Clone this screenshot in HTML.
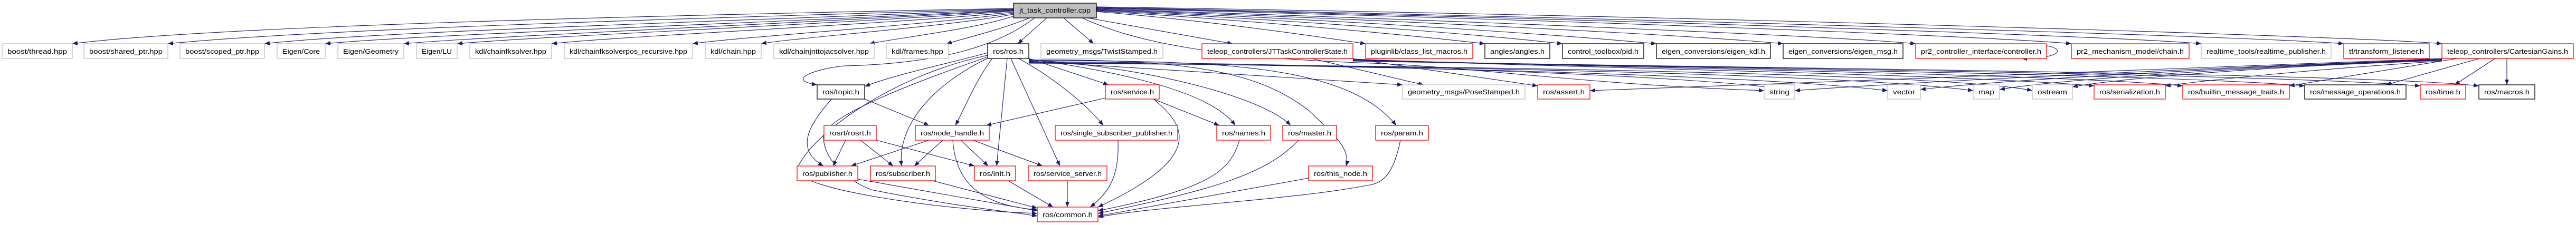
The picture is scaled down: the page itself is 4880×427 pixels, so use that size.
<!DOCTYPE html>
<html><head><meta charset="utf-8"><style>
html,body{margin:0;padding:0;background:#fff;}
svg{display:block;}
text{font-family:"Liberation Sans",sans-serif;font-size:13px;fill:#000;}
.e{fill:none;stroke:#191970;stroke-width:1.1;}
</style></head><body>
<svg width="4880" height="427" viewBox="0 0 4880 427" xmlns="http://www.w3.org/2000/svg">
<defs><marker id="a" viewBox="0 0 10 8" refX="10" refY="4" markerWidth="10" markerHeight="8" markerUnits="userSpaceOnUse" orient="auto"><path d="M0,0 L10,4 L0,8 z" fill="#191970"/></marker></defs>
<g marker-end="url(#a)">
<!-- root to left row1 -->
<path class="e" d="M1920,16 C1200,30 400,50 137,83"/>
<path class="e" d="M1920,17 C1300,35 600,55 318,83"/>
<path class="e" d="M1920,18 C1400,40 700,60 501,83"/>
<path class="e" d="M1920,19 C1500,42 800,65 616,83"/>
<path class="e" d="M1920,20 C1500,45 900,70 765,83"/>
<path class="e" d="M1920,21 C1600,45 1000,70 866,83"/>
<path class="e" d="M1920,23 C1700,45 1150,70 1045,83"/>
<path class="e" d="M1920,25 C1750,48 1400,70 1312,83"/>
<path class="e" d="M1920,27 C1800,50 1500,72 1442,83"/>
<path class="e" d="M1922,30 C1850,55 1700,72 1647,83"/>
<path class="e" d="M1950,34 C1900,55 1830,72 1793,83"/>
<path class="e" d="M1983,34 L1928,83"/>
<path class="e" d="M2015,34 L2072,83"/>
<path class="e" d="M2060,34 L2335,83"/>
<!-- root to right row1 -->
<path class="e" d="M2077,22 C2300,40 2500,70 2587,83"/>
<path class="e" d="M2077,21 C2400,40 2700,70 2813,83"/>
<path class="e" d="M2077,20 C2500,40 2850,70 2960,83"/>
<path class="e" d="M2077,19 C2600,40 3000,70 3138,83"/>
<path class="e" d="M2077,18 C2700,40 3250,70 3378,83"/>
<path class="e" d="M2077,17 C2800,40 3500,70 3629,83"/>
<path class="e" d="M2077,16 C2900,35 3800,70 3924,83"/>
<path class="e" d="M2077,15 C3000,35 4050,70 4170,83"/>
<path class="e" d="M2077,14 C3100,35 4300,70 4440,83"/>
<path class="e" d="M2077,13 C3200,30 4500,70 4626,83"/>
<!-- root to deeper -->
<path class="e" d="M1960,34 C1900,80 1800,120 1600,125 C1560,128 1480,150 1548,161"/>
<path class="e" d="M2050,34 C2150,80 2300,110 2600,120 C2800,128 3000,160 3342,172"/>
<!-- self loop controller -->
<path class="e" d="M3830,83 C3920,83 3920,111 3830,111"/>
<!-- ros.h edges -->
<path class="e" d="M1871,100 C1800,120 1700,140 1638,164"/>
<path class="e" d="M1880,111 C1850,150 1830,200 1810,238"/>
<path class="e" d="M1870,111 C1750,170 1700,250 1708,315"/>
<path class="e" d="M1908,111 L1888,315"/>
<path class="e" d="M1915,111 L2008,315"/>
<path class="e" d="M1930,111 C2000,150 2060,200 2090,238"/>
<path class="e" d="M1949,111 L2100,161"/>
<path class="e" d="M1949,112 C2150,140 2300,180 2340,238"/>
<path class="e" d="M1949,113 C2200,130 2400,190 2445,238"/>
<path class="e" d="M1949,114 C2300,110 2400,150 2480,210 C2520,250 2560,280 2550,315"/>
<path class="e" d="M1949,115 C2300,115 2550,120 2645,238"/>
<path class="e" d="M1949,116 C2300,140 2500,150 2657,161"/>
<path class="e" d="M1949,117 C2500,120 3200,140 3400,172"/>
<path class="e" d="M1949,118 C2600,125 3300,140 3576,172"/>
<path class="e" d="M1949,119 C2700,125 3500,140 3738,172"/>
<path class="e" d="M1949,120 C2800,125 3700,140 3850,172"/>
<path class="e" d="M1871,105 C1700,140 1540,250 1510,320 C1500,360 1800,400 1965,405"/>
<path class="e" d="M1871,108 C1750,150 1560,220 1560,260 C1560,300 1600,340 1650,360 C1800,390 1900,400 1965,410"/>
<!-- topic -->
<path class="e" d="M1638,188 L1760,238"/>
<path class="e" d="M1575,188 C1540,230 1500,280 1560,315"/>
<!-- rosrt -->
<path class="e" d="M1602,266 L1578,315"/>
<path class="e" d="M1630,266 L1692,315"/>
<path class="e" d="M1660,266 L1846,315"/>
<!-- node_handle -->
<path class="e" d="M1760,266 L1612,315"/>
<path class="e" d="M1786,266 L1732,315"/>
<path class="e" d="M1820,266 L1872,315"/>
<path class="e" d="M1843,266 L1975,315"/>
<path class="e" d="M1805,266 C1810,340 1850,390 1965,398"/>
<!-- service.h -->
<path class="e" d="M2094,186 L1868,238"/>
<path class="e" d="M2185,188 L2310,238"/>
<path class="e" d="M2185,188 C2250,240 2280,300 2080,393"/>
<!-- to common -->
<path class="e" d="M1625,340 L1965,400"/>
<path class="e" d="M1767,343 L1965,395"/>
<path class="e" d="M1910,343 L1995,393"/>
<path class="e" d="M2022,343 L2022,393"/>
<path class="e" d="M2118,266 C2120,320 2110,360 2065,393"/>
<path class="e" d="M2348,266 C2330,330 2280,360 2080,400"/>
<path class="e" d="M2460,266 C2400,330 2300,360 2080,405"/>
<path class="e" d="M2479,338 L2080,410"/>
<path class="e" d="M2653,266 C2640,330 2620,345 2600,350 C2450,380 2200,390 2080,412"/>
<!-- JTTaskControllerState -->
<path class="e" d="M2485,111 L2697,161"/>
<path class="e" d="M2560,111 L2913,163"/>
<path class="e" d="M2563,112 C3000,130 3700,140 3967,163"/>
<path class="e" d="M2563,113 C3100,130 3900,140 4135,163"/>
<path class="e" d="M2563,114 C3200,130 4100,140 4366,163"/>
<path class="e" d="M2563,115 C3300,130 4300,140 4585,163"/>
<path class="e" d="M2563,116 C3400,130 4500,140 4696,163"/>
<!-- CartesianGains -->
<path class="e" d="M4626,111 C4300,125 3600,150 3012,172"/>
<path class="e" d="M4626,112 C4300,125 3700,150 3400,172"/>
<path class="e" d="M4626,113 C4300,125 3800,150 3638,170"/>
<path class="e" d="M4626,114 C4300,125 3900,150 3788,170"/>
<path class="e" d="M4626,115 C4300,125 4000,150 3926,165"/>
<path class="e" d="M4626,116 C4400,130 4200,150 4102,163"/>
<path class="e" d="M4655,111 L4337,163"/>
<path class="e" d="M4697,111 L4520,161"/>
<path class="e" d="M4727,111 L4650,161"/>
<path class="e" d="M4749,111 L4749,161"/>
</g>
<!-- nodes -->
<g stroke-width="1.3" fill="#fff">
<rect x="1920" y="6" width="157" height="28" fill="#bfbfbf" stroke="#000"/>
<g stroke="#bfbfbf">
<rect x="4" y="83" width="133" height="28"/><rect x="159" y="83" width="159" height="28"/><rect x="341" y="83" width="160" height="28"/><rect x="525" y="83" width="91" height="28"/><rect x="640" y="83" width="125" height="28"/><rect x="789" y="83" width="77" height="28"/><rect x="890" y="83" width="155" height="28"/><rect x="1069" y="83" width="243" height="28"/><rect x="1336" y="83" width="106" height="28"/><rect x="1466" y="83" width="190" height="28"/><rect x="1679" y="83" width="118" height="28"/><rect x="1972" y="83" width="231" height="28"/><rect x="4170" y="83" width="246" height="28"/>
<rect x="2657" y="161" width="232" height="27"/><rect x="3342" y="161" width="58" height="27"/><rect x="3576" y="161" width="62" height="27"/><rect x="3738" y="161" width="50" height="27"/><rect x="3850" y="161" width="76" height="27"/>
</g>
<g stroke="#000">
<rect x="1871" y="83" width="78" height="28"/><rect x="2813" y="83" width="123" height="28"/><rect x="2960" y="83" width="154" height="28"/><rect x="3138" y="83" width="216" height="28"/><rect x="3378" y="83" width="227" height="28"/>
<rect x="1548" y="161" width="90" height="27"/><rect x="4366" y="161" width="192" height="27"/><rect x="4696" y="161" width="106" height="27"/>
</g>
<g stroke="#ff0000">
<rect x="2277" y="83" width="286" height="28"/><rect x="2587" y="83" width="203" height="28"/><rect x="3629" y="83" width="248" height="28"/><rect x="3924" y="83" width="223" height="28"/><rect x="4440" y="83" width="162" height="28"/><rect x="4626" y="83" width="249" height="28"/>
<rect x="2094" y="161" width="102" height="27"/><rect x="2913" y="161" width="99" height="27"/><rect x="3967" y="161" width="135" height="27"/><rect x="4135" y="161" width="202" height="27"/><rect x="4585" y="161" width="86" height="27"/>
<rect x="1561" y="238" width="99" height="28"/><rect x="1734" y="238" width="140" height="28"/><rect x="1999" y="238" width="232" height="28"/><rect x="2305" y="238" width="102" height="28"/><rect x="2430" y="238" width="102" height="28"/><rect x="2606" y="238" width="100" height="28"/>
<rect x="1510" y="315" width="115" height="28"/><rect x="1649" y="315" width="123" height="28"/><rect x="1846" y="315" width="78" height="28"/><rect x="1948" y="315" width="149" height="28"/><rect x="2479" y="315" width="121" height="28"/>
<rect x="1965" y="393" width="115" height="28"/>
</g>
</g>
<g lengthAdjust="spacingAndGlyphs">
<text x="1931" y="24" textLength="135" lengthAdjust="spacingAndGlyphs">jt_task_controller.cpp</text>
<text x="14" y="102" textLength="113" lengthAdjust="spacingAndGlyphs">boost/thread.hpp</text>
<text x="169" y="102" textLength="139" lengthAdjust="spacingAndGlyphs">boost/shared_ptr.hpp</text>
<text x="351" y="102" textLength="140" lengthAdjust="spacingAndGlyphs">boost/scoped_ptr.hpp</text>
<text x="535" y="102" textLength="71" lengthAdjust="spacingAndGlyphs">Eigen/Core</text>
<text x="650" y="102" textLength="105" lengthAdjust="spacingAndGlyphs">Eigen/Geometry</text>
<text x="799" y="102" textLength="57" lengthAdjust="spacingAndGlyphs">Eigen/LU</text>
<text x="900" y="102" textLength="135" lengthAdjust="spacingAndGlyphs">kdl/chainfksolver.hpp</text>
<text x="1079" y="102" textLength="223" lengthAdjust="spacingAndGlyphs">kdl/chainfksolverpos_recursive.hpp</text>
<text x="1346" y="102" textLength="86" lengthAdjust="spacingAndGlyphs">kdl/chain.hpp</text>
<text x="1476" y="102" textLength="170" lengthAdjust="spacingAndGlyphs">kdl/chainjnttojacsolver.hpp</text>
<text x="1689" y="102" textLength="98" lengthAdjust="spacingAndGlyphs">kdl/frames.hpp</text>
<text x="1881" y="102" textLength="58" lengthAdjust="spacingAndGlyphs">ros/ros.h</text>
<text x="1982" y="102" textLength="211" lengthAdjust="spacingAndGlyphs">geometry_msgs/TwistStamped.h</text>
<text x="2287" y="102" textLength="266" lengthAdjust="spacingAndGlyphs">teleop_controllers/JTTaskControllerState.h</text>
<text x="2597" y="102" textLength="183" lengthAdjust="spacingAndGlyphs">pluginlib/class_list_macros.h</text>
<text x="2823" y="102" textLength="103" lengthAdjust="spacingAndGlyphs">angles/angles.h</text>
<text x="2970" y="102" textLength="134" lengthAdjust="spacingAndGlyphs">control_toolbox/pid.h</text>
<text x="3148" y="102" textLength="196" lengthAdjust="spacingAndGlyphs">eigen_conversions/eigen_kdl.h</text>
<text x="3388" y="102" textLength="207" lengthAdjust="spacingAndGlyphs">eigen_conversions/eigen_msg.h</text>
<text x="3639" y="102" textLength="228" lengthAdjust="spacingAndGlyphs">pr2_controller_interface/controller.h</text>
<text x="3934" y="102" textLength="203" lengthAdjust="spacingAndGlyphs">pr2_mechanism_model/chain.h</text>
<text x="4180" y="102" textLength="226" lengthAdjust="spacingAndGlyphs">realtime_tools/realtime_publisher.h</text>
<text x="4450" y="102" textLength="142" lengthAdjust="spacingAndGlyphs">tf/transform_listener.h</text>
<text x="4636" y="102" textLength="229" lengthAdjust="spacingAndGlyphs">teleop_controllers/CartesianGains.h</text>
<text x="1558" y="179" textLength="70" lengthAdjust="spacingAndGlyphs">ros/topic.h</text>
<text x="2104" y="179" textLength="82" lengthAdjust="spacingAndGlyphs">ros/service.h</text>
<text x="2667" y="179" textLength="212" lengthAdjust="spacingAndGlyphs">geometry_msgs/PoseStamped.h</text>
<text x="2923" y="179" textLength="79" lengthAdjust="spacingAndGlyphs">ros/assert.h</text>
<text x="3352" y="179" textLength="38" lengthAdjust="spacingAndGlyphs">string</text>
<text x="3586" y="179" textLength="42" lengthAdjust="spacingAndGlyphs">vector</text>
<text x="3748" y="179" textLength="30" lengthAdjust="spacingAndGlyphs">map</text>
<text x="3860" y="179" textLength="56" lengthAdjust="spacingAndGlyphs">ostream</text>
<text x="3977" y="179" textLength="115" lengthAdjust="spacingAndGlyphs">ros/serialization.h</text>
<text x="4145" y="179" textLength="182" lengthAdjust="spacingAndGlyphs">ros/builtin_message_traits.h</text>
<text x="4376" y="179" textLength="172" lengthAdjust="spacingAndGlyphs">ros/message_operations.h</text>
<text x="4595" y="179" textLength="66" lengthAdjust="spacingAndGlyphs">ros/time.h</text>
<text x="4706" y="179" textLength="86" lengthAdjust="spacingAndGlyphs">ros/macros.h</text>
<text x="1571" y="257" textLength="79" lengthAdjust="spacingAndGlyphs">rosrt/rosrt.h</text>
<text x="1744" y="257" textLength="120" lengthAdjust="spacingAndGlyphs">ros/node_handle.h</text>
<text x="2009" y="257" textLength="212" lengthAdjust="spacingAndGlyphs">ros/single_subscriber_publisher.h</text>
<text x="2315" y="257" textLength="82" lengthAdjust="spacingAndGlyphs">ros/names.h</text>
<text x="2440" y="257" textLength="82" lengthAdjust="spacingAndGlyphs">ros/master.h</text>
<text x="2616" y="257" textLength="80" lengthAdjust="spacingAndGlyphs">ros/param.h</text>
<text x="1520" y="334" textLength="95" lengthAdjust="spacingAndGlyphs">ros/publisher.h</text>
<text x="1659" y="334" textLength="103" lengthAdjust="spacingAndGlyphs">ros/subscriber.h</text>
<text x="1856" y="334" textLength="58" lengthAdjust="spacingAndGlyphs">ros/init.h</text>
<text x="1958" y="334" textLength="129" lengthAdjust="spacingAndGlyphs">ros/service_server.h</text>
<text x="2489" y="334" textLength="101" lengthAdjust="spacingAndGlyphs">ros/this_node.h</text>
<text x="1975" y="412" textLength="95" lengthAdjust="spacingAndGlyphs">ros/common.h</text>
</g>
</svg>
</body></html>
